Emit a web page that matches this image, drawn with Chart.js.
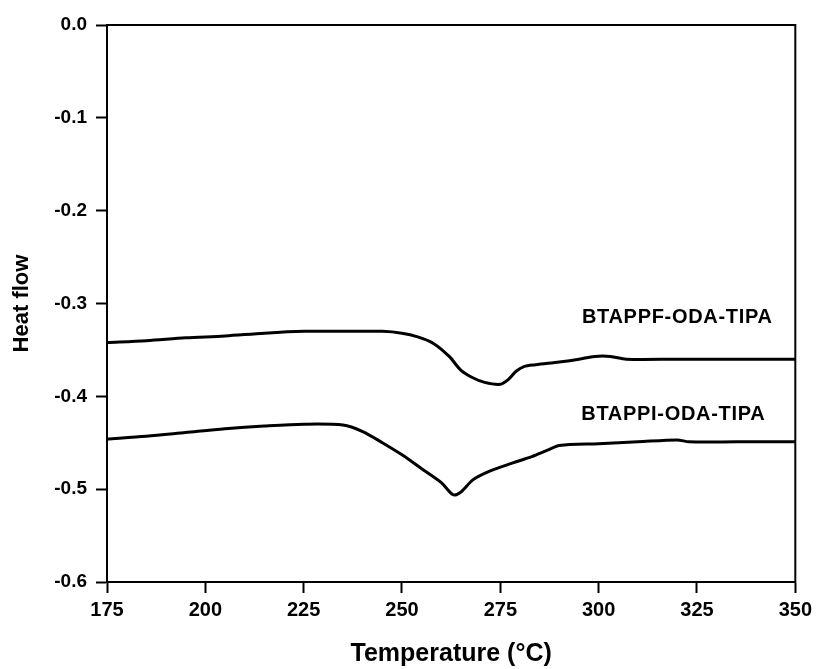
<!DOCTYPE html>
<html>
<head>
<meta charset="utf-8">
<script src="https://cdn.jsdelivr.net/npm/chart.js@4/dist/chart.umd.min.js"></script>
<style>
  html, body { margin: 0; padding: 0; background: #fff; }
  #wrap { width: 817px; height: 669px; }
</style>
</head>
<body>
<div id="wrap"><canvas id="dscChart" width="817" height="669"></canvas></div>
<script>
// Data
const tempF = [175, 185, 195, 205, 215, 225, 235, 245, 250, 254, 258, 262, 265, 268, 271, 275, 277, 279, 281, 284, 290, 295, 299, 303, 307, 320, 335, 350];
const flowF = [-0.342, -0.340, -0.337, -0.335, -0.332, -0.330, -0.330, -0.330, -0.332, -0.336, -0.343, -0.357, -0.372, -0.380, -0.385, -0.387, -0.382, -0.373, -0.368, -0.366, -0.363, -0.360, -0.357, -0.357, -0.360, -0.360, -0.360, -0.360];

const tempI = [175, 185, 195, 205, 215, 225, 235, 240, 245, 250, 255, 260, 263, 265, 268, 272, 278, 283, 287, 290, 300, 310, 320, 323, 335, 350];
const flowI = [-0.446, -0.443, -0.439, -0.435, -0.432, -0.430, -0.431, -0.438, -0.450, -0.463, -0.478, -0.493, -0.506, -0.503, -0.490, -0.481, -0.472, -0.465, -0.458, -0.453, -0.451, -0.449, -0.447, -0.449, -0.449, -0.449];

const seriesNames = ['BTAPPF-ODA-TIPA', 'BTAPPI-ODA-TIPA'];
const labelAt = [[320, -0.315], [319, -0.420]];

const xTicks = [175, 200, 225, 250, 275, 300, 325, 350];
const yTicks = [0.0, -0.1, -0.2, -0.3, -0.4, -0.5, -0.6];

const FONT = '"Liberation Sans", Arial, sans-serif';

// frame around plot + curve labels
const framePlugin = {
  id: 'frame',
  afterDraw(chart) {
    const { ctx, chartArea: a, scales } = chart;
    ctx.save();
    ctx.strokeStyle = '#000';
    ctx.lineWidth = 2;
    ctx.strokeRect(a.left, a.top, a.right - a.left, a.bottom - a.top);
    ctx.fillStyle = '#000';
    ctx.font = 'bold 20px ' + FONT;
    ctx.letterSpacing = '0.7px';
    ctx.textAlign = 'center';
    ctx.textBaseline = 'middle';
    seriesNames.forEach((name, i) => {
      const px = scales.x.getPixelForValue(labelAt[i][0]);
      const py = scales.y.getPixelForValue(labelAt[i][1]);
      ctx.fillText(name, px, py);
    });
    ctx.restore();
  }
};

function toPoints(xs, ys) {
  return xs.map((x, i) => ({ x: x, y: ys[i] }));
}

new Chart(document.getElementById('dscChart'), {
  type: 'line',
  data: {
    datasets: [
      {
        label: seriesNames[0],
        data: toPoints(tempF, flowF),
        borderColor: '#000',
        borderWidth: 3,
        pointRadius: 0,
        tension: 0.3
      },
      {
        label: seriesNames[1],
        data: toPoints(tempI, flowI),
        borderColor: '#000',
        borderWidth: 3,
        pointRadius: 0,
        tension: 0.3
      }
    ]
  },
  options: {
    responsive: false,
    animation: false,
    layout: { padding: { top: 25, right: 18, left: 0, bottom: 0 } },
    plugins: {
      legend: { display: false },
      tooltip: { enabled: false }
    },
    scales: {
      x: {
        type: 'linear',
        min: 175,
        max: 350,
        afterBuildTicks: s => { s.ticks = xTicks.map(v => ({ value: v })); },
        afterFit: s => { s.height = 87; },
        grid: { drawOnChartArea: false, tickLength: 11, tickWidth: 2, color: '#000' },
        border: { color: '#000', width: 2 },
        ticks: {
          color: '#000',
          padding: 5,
          maxRotation: 0,
          font: { family: FONT, size: 20, weight: 'bold' }
        },
        title: {
          display: true,
          text: 'Temperature (°C)',
          color: '#000',
          padding: { top: 0, bottom: 0 },
          font: { family: FONT, size: 25, weight: 'bold' }
        }
      },
      y: {
        min: -0.6,
        max: 0,
        afterBuildTicks: s => { s.ticks = yTicks.map(v => ({ value: v })); },
        afterFit: s => { s.width = 107; },
        grid: { drawOnChartArea: false, tickLength: 11, tickWidth: 2, color: '#000' },
        border: { color: '#000', width: 2 },
        ticks: {
          color: '#000',
          padding: 9,
          font: { family: FONT, size: 19, weight: 'bold' },
          callback: v => v.toFixed(1)
        },
        title: {
          display: true,
          text: 'Heat flow',
          color: '#000',
          padding: { top: 9, bottom: 0 },
          font: { family: FONT, size: 22, weight: 'bold' }
        }
      }
    }
  },
  plugins: [framePlugin]
});
</script>
</body>
</html>
